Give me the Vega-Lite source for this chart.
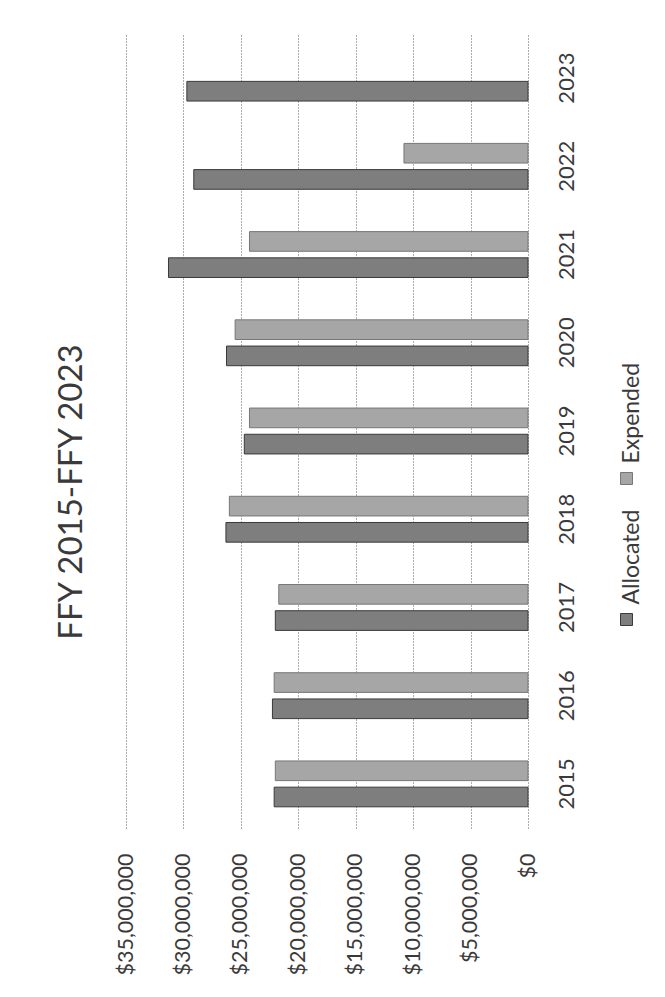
{
  "$schema": "https://vega.github.io/schema/vega-lite/v6.json",
  "width": 402,
  "height": 794,
  "autosize": {"type": "none"},
  "padding": {"left": 126, "top": 34, "right": 137, "bottom": 169},
  "background": "white",
  "title": {
    "text": "FFY 2015-FFY 2023",
    "orient": "left",
    "anchor": "middle",
    "font": "Lato",
    "fontSize": 33,
    "fontWeight": "normal",
    "color": "#3a3a3a",
    "offset": 26,
    "dx": -61
  },
  "data": {
    "values": [
      {"year": "2015", "series": "Allocated", "amount": 22100000},
      {"year": "2015", "series": "Expended", "amount": 22000000},
      {"year": "2016", "series": "Allocated", "amount": 22250000},
      {"year": "2016", "series": "Expended", "amount": 22100000},
      {"year": "2017", "series": "Allocated", "amount": 22000000},
      {"year": "2017", "series": "Expended", "amount": 21700000},
      {"year": "2018", "series": "Allocated", "amount": 26300000},
      {"year": "2018", "series": "Expended", "amount": 26000000},
      {"year": "2019", "series": "Allocated", "amount": 24700000},
      {"year": "2019", "series": "Expended", "amount": 24250000},
      {"year": "2020", "series": "Allocated", "amount": 26250000},
      {"year": "2020", "series": "Expended", "amount": 25500000},
      {"year": "2021", "series": "Allocated", "amount": 31300000},
      {"year": "2021", "series": "Expended", "amount": 24250000},
      {"year": "2022", "series": "Allocated", "amount": 29100000},
      {"year": "2022", "series": "Expended", "amount": 10800000},
      {"year": "2023", "series": "Allocated", "amount": 29700000}
    ]
  },
  "mark": {"type": "bar", "strokeWidth": 1},
  "encoding": {
    "y": {
      "field": "year",
      "type": "nominal",
      "sort": ["2023", "2022", "2021", "2020", "2019", "2018", "2017", "2016", "2015"],
      "scale": {"paddingInner": 0.48, "paddingOuter": 0.24},
      "axis": {
        "orient": "right",
        "title": null,
        "ticks": false,
        "domain": false,
        "grid": false,
        "labelAngle": -90,
        "labelAlign": "center",
        "labelBaseline": "middle",
        "labelPadding": 38,
        "labelFont": "Lato",
        "labelFontSize": 22,
        "labelColor": "#3a3a3a"
      }
    },
    "yOffset": {
      "field": "series",
      "sort": ["Expended", "Allocated"],
      "scale": {"paddingInner": 0.25, "paddingOuter": 0}
    },
    "x": {
      "field": "amount",
      "type": "quantitative",
      "scale": {"domain": [0, 35000000], "reverse": true, "nice": false},
      "axis": {
        "orient": "bottom",
        "title": null,
        "values": [0, 5000000, 10000000, 15000000, 20000000, 25000000, 30000000, 35000000],
        "format": "$,.0f",
        "ticks": false,
        "domain": false,
        "grid": true,
        "gridColor": "#5a5a5a",
        "gridDash": [1, 2],
        "gridWidth": 1,
        "labelAngle": -90,
        "labelAlign": "right",
        "labelBaseline": "middle",
        "labelPadding": 25,
        "labelFlush": false,
        "labelOverlap": false,
        "labelFont": "Lato",
        "labelFontSize": 21.5,
        "labelColor": "#3a3a3a"
      }
    },
    "color": {
      "field": "series",
      "type": "nominal",
      "scale": {"domain": ["Expended", "Allocated"], "range": ["#a6a6a6", "#7e7e7e"]},
      "legend": {
        "title": null,
        "orient": "none",
        "legendX": 489,
        "legendY": 433,
        "direction": "vertical",
        "padding": 0,
        "rowPadding": 22,
        "symbolType": "square",
        "symbolSize": 144,
        "symbolStrokeColor": "#555555",
        "symbolStrokeWidth": 1,
        "labelFont": "Lato",
        "labelFontSize": 23,
        "labelColor": "#3a3a3a",
        "labelOffset": 0,
        "encoding": {
          "labels": {
            "angle": {"value": -90},
            "align": {"value": "left"},
            "baseline": {"value": "middle"},
            "dx": {"value": 15},
            "dy": {"value": -6.5}
          }
        }
      }
    },
    "stroke": {
      "field": "series",
      "type": "nominal",
      "scale": {"domain": ["Expended", "Allocated"], "range": ["#777777", "#3a3a3a"]},
      "legend": null
    }
  },
  "config": {"view": {"stroke": null}}
}
